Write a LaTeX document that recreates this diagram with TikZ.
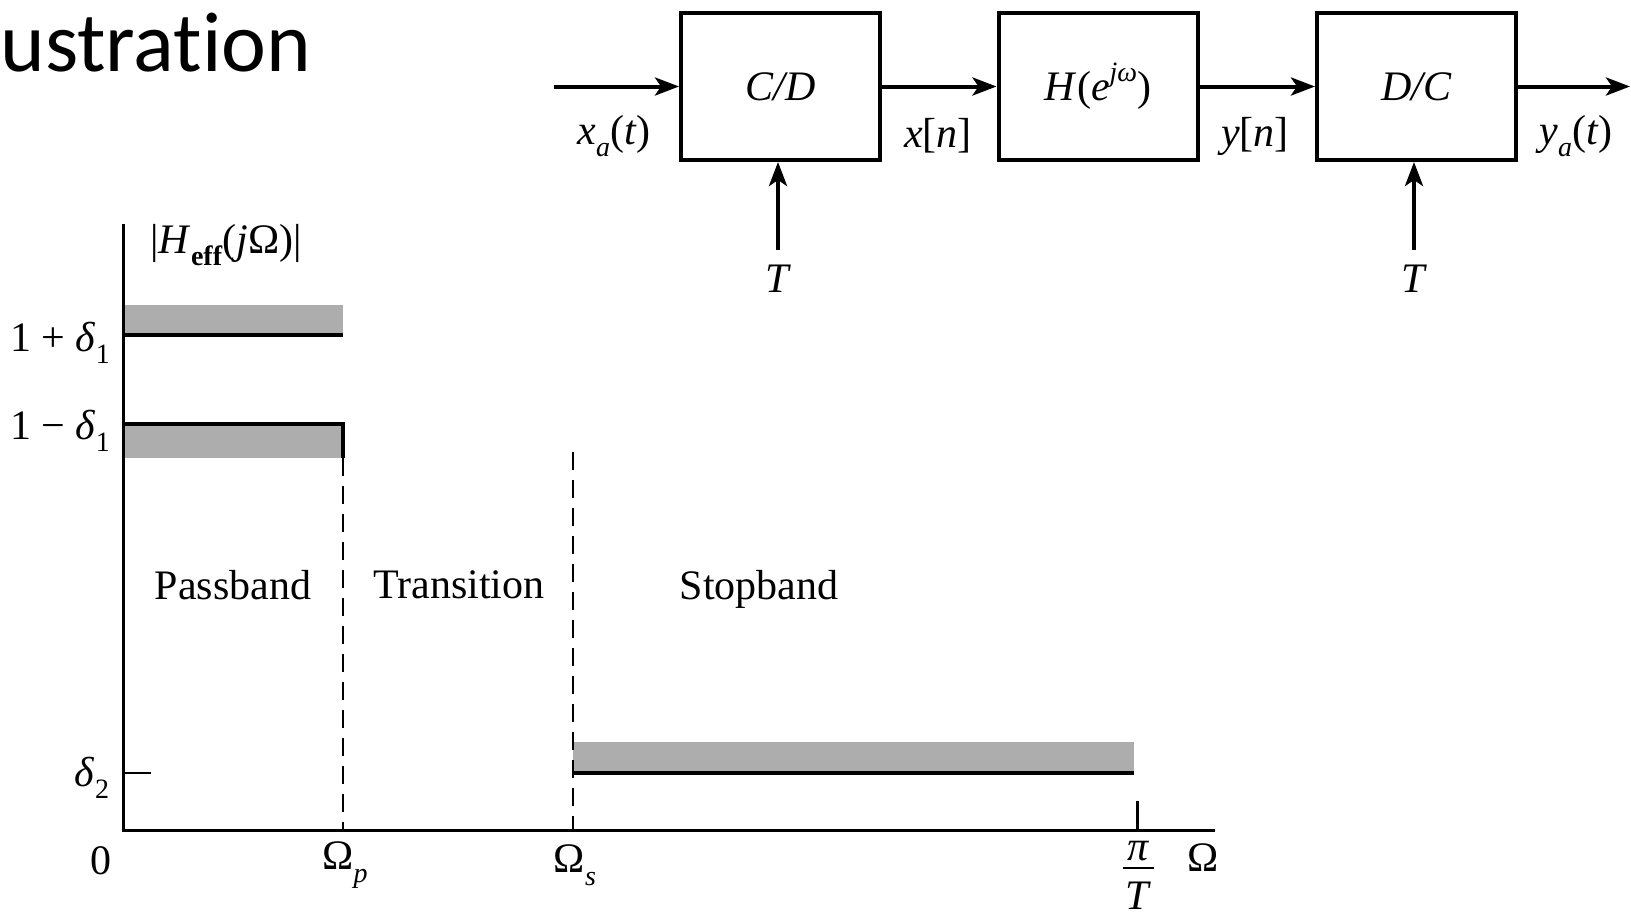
\documentclass[tikz,border=0pt]{standalone}
\usepackage{fontspec}
\setmainfont{Liberation Serif}
\newfontfamily\titlefont[Ligatures=NoCommon]{Carlito}
\usetikzlibrary{arrows.meta}
\newcommand{\mysub}[1]{\raisebox{-0.3em}{\fontsize{14}{14}\selectfont #1}}
\newcommand{\mysup}[1]{\raisebox{0.45em}{\fontsize{14}{14}\selectfont #1}}
\begin{document}
\begin{tikzpicture}[x=0.5pt,y=-0.5pt,
  every node/.style={font=\fontsize{21}{25}\selectfont, inner sep=0pt},
  block/.style={draw, line width=2pt, minimum width=99.5pt, minimum height=73.5pt},
  sig/.style={line width=2pt, -{Stealth[length=12pt,width=9pt,inset=3pt]}},
  axis/.style={line width=1.5pt},
  bandline/.style={line width=1.6pt},
  band/.style={fill=black!32, draw=none},
  guide/.style={line width=1pt, dash pattern=on 9pt off 5pt}
]
\useasboundingbox (0,0) rectangle (1631,916);

% title
\node[anchor=base west, font=\titlefont\fontsize{42.5}{46}\selectfont] (title) at (0,71) {ustrat\kern0pt ion};

% block diagram
\node[block] (cd) at (780.5,86.5) {\textit{C/D}};
\node[block] (hh) at (1098,86.5) {\textit{H}(\textit{e}\mysup{\textit{jω}})};
\node[block] (dc) at (1416.5,86.5) {\textit{D/C}};

\coordinate (in) at (554,86.5);
\coordinate (out) at (1630,86.5);
\draw[sig] (in) -- (cd.west);
\draw[sig] (cd.east) -- (hh.west);
\draw[sig] (hh.east) -- (dc.west);
\draw[sig] (dc.east) -- (out);

\coordinate (t1) at (778,250);
\coordinate (t2) at (1414,250);
\node (T1) at (778,279) {\textit{T}};
\node (T2) at (1414,279) {\textit{T}};
\draw[sig] (t1) -- (t1 |- cd.south);
\draw[sig] (t2) -- (t2 |- dc.south);

\node (xa) at (614,136) {\textit{x}\mysub{\textit{a}}(\textit{t})};
\node (xn) at (938,136) {\textit{x}[\textit{n}]};
\node (yn) at (1255,136) {\textit{y}[\textit{n}]};
\node (ya) at (1576,136) {\textit{y}\mysub{\textit{a}}(\textit{t})};

% tolerance plot
\coordinate (O) at (123,830);
\coordinate (ytop) at (123,224);
\coordinate (xend) at (1215,830);

\fill[band] (123,305) rectangle (343,335);
\fill[band] (123,424) rectangle (343,458);
\fill[band] (573,742) rectangle (1134,773);

\draw[bandline] (123,335) -- (343,335);
\draw[bandline] (123,424) -- (343,424) -- (343,458);
\draw[bandline] (573,773) -- (1134,773);

\draw[guide] (343,458) -- (343,830);
\draw[guide] (573,452) -- (573,830);

\draw[axis] (ytop) -- (O) -- (xend);
\draw[line width=1pt] (123,773) -- (151,773);
\draw[line width=1.5pt] (1137,801) -- (1137,830);

\node (hlab) at (226,245) {|\textit{H}\mysub{\textbf{eff}}(\textit{j}Ω)|};
\node (l1p) at (60,343) {1 + \textit{δ}\mysub{1}};
\node (l1m) at (60,431) {1 − \textit{δ}\mysub{1}};
\node (ld2) at (92,778) {\textit{δ}\mysub{2}};
\node (l0) at (101,861) {0};
\node (lwp) at (345,865) {Ω\mysub{\textit{p}}};
\node (lws) at (575,865) {Ω\mysub{\textit{s}}};
\node (lpi) at (1138,851) {\textit{π}};
\draw[line width=1.2pt] (1123,868) -- (1154,868);
\node (lT) at (1138,896) {\textit{T}};
\node (lw) at (1203,858) {Ω};

\node (pass) at (233,585) {Passband};
\node (trans) at (459,585) {Transition};
\node (stop) at (759,589) {Stopband};
\end{tikzpicture}
\end{document}
